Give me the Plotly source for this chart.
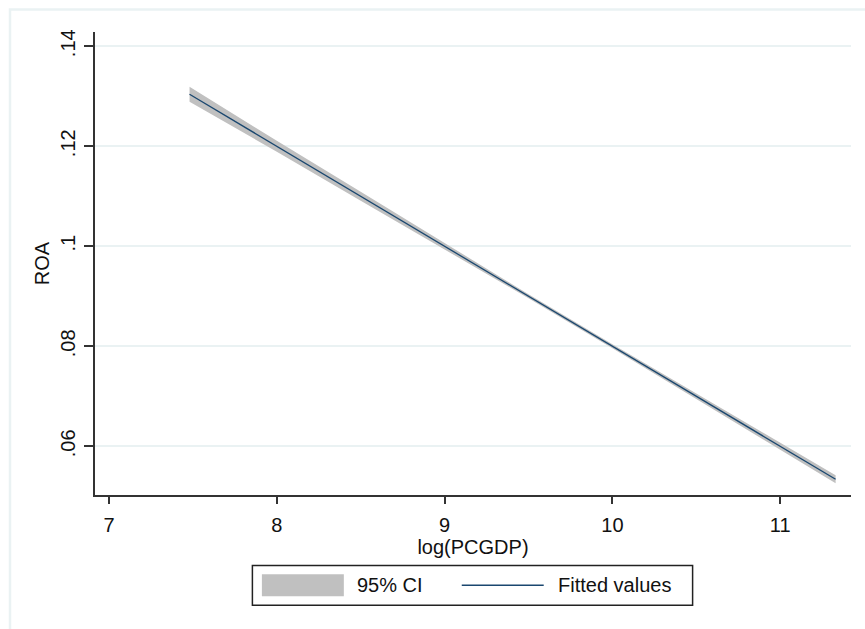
import plotly.graph_objects as go

# Data
x_fit = [7.48, 8.0, 8.5, 9.0, 9.5, 10.0, 10.5, 11.0, 11.33]
y_fit = [0.1304, 0.1200, 0.1100, 0.1000, 0.0900, 0.0800, 0.0700, 0.0600, 0.0534]
ci_lo = [0.1289, 0.1189, 0.1091, 0.0994, 0.0896, 0.0796, 0.0695, 0.0594, 0.0526]
ci_hi = [0.1319, 0.1211, 0.1109, 0.1006, 0.0904, 0.0804, 0.0705, 0.0606, 0.0542]

y_tickvals = [0.06, 0.08, 0.10, 0.12, 0.14]
y_ticktext = [".06", ".08", ".1", ".12", ".14"]
x_tickvals = [7, 8, 9, 10, 11]
x_ticktext = ["7", "8", "9", "10", "11"]
legend_labels = ["95% CI", "Fitted values"]

FONT = "Liberation Sans, Arial, sans-serif"
CI_COLOR = "#c0c0c0"
LINE_COLOR = "#1a476f"
GRID = "#eaf2f3"

fig = go.Figure()
fig.add_trace(go.Scatter(x=x_fit, y=ci_hi, mode="lines", line=dict(width=0),
                         showlegend=False, hoverinfo="skip"))
fig.add_trace(go.Scatter(x=x_fit, y=ci_lo, mode="lines", line=dict(width=0),
                         fill="tonexty", fillcolor=CI_COLOR, name=legend_labels[0],
                         showlegend=False))
fig.add_trace(go.Scatter(x=x_fit, y=y_fit, mode="lines",
                         line=dict(color=LINE_COLOR, width=1.3),
                         name=legend_labels[1], showlegend=False))

fig.update_layout(
    width=865, height=629,
    margin=dict(l=95, r=13.5, t=32, b=133.5),
    paper_bgcolor="white", plot_bgcolor="white",
    font=dict(family=FONT, size=20, color="#111"),
    xaxis=dict(range=[6.9166, 11.4217], tickvals=x_tickvals, ticktext=x_ticktext,
               showgrid=False, zeroline=False, showline=True, linecolor="#333",
               linewidth=2, ticks="outside", ticklen=7, tickwidth=2, tickcolor="#333",
               ticklabelstandoff=4,
               title=dict(text="log(PCGDP)", font=dict(size=20), standoff=2)),
    yaxis=dict(range=[0.05026, 0.14285], tickvals=y_tickvals, ticktext=y_ticktext,
               showgrid=True, gridcolor=GRID, gridwidth=1.5, zeroline=False,
               showline=True, linecolor="#333", linewidth=2, ticks="outside",
               ticklen=9, tickwidth=2, tickcolor="#333", tickangle=-90,
               ticklabelstandoff=1,
               title=dict(text="ROA", font=dict(size=20), standoff=2)),
    showlegend=False,
)

# outer graph-region frame (Stata style)
fig.add_shape(type="rect", xref="paper", yref="paper",
              x0=(10 - 95) / 756, x1=1.3, y0=-0.5, y1=(495 - 9.5) / 463,
              line=dict(color=GRID, width=2.5), fillcolor="rgba(0,0,0,0)", layer="below")

# legend box
def px_x(p):
    return (p - 95) / 756.5

def px_y(p):
    return (495.5 - p) / 463.8

fig.add_shape(type="rect", xref="paper", yref="paper",
              x0=px_x(252.5), x1=px_x(693), y0=px_y(606), y1=px_y(566),
              line=dict(color="#222", width=1.5), fillcolor="white")
fig.add_shape(type="rect", xref="paper", yref="paper",
              x0=px_x(262), x1=px_x(344), y0=px_y(597), y1=px_y(575),
              line=dict(width=0), fillcolor=CI_COLOR)
fig.add_shape(type="line", xref="paper", yref="paper",
              x0=px_x(462), x1=px_x(544), y0=px_y(586), y1=px_y(586),
              line=dict(color=LINE_COLOR, width=1.5))
fig.add_annotation(xref="paper", yref="paper", x=px_x(355), y=px_y(586),
                   text=legend_labels[0], showarrow=False, xanchor="left", yanchor="middle",
                   font=dict(size=20, family=FONT, color="#111"))
fig.add_annotation(xref="paper", yref="paper", x=px_x(556), y=px_y(586),
                   text=legend_labels[1], showarrow=False, xanchor="left", yanchor="middle",
                   font=dict(size=20, family=FONT, color="#111"))

fig.write_html("out.html")
